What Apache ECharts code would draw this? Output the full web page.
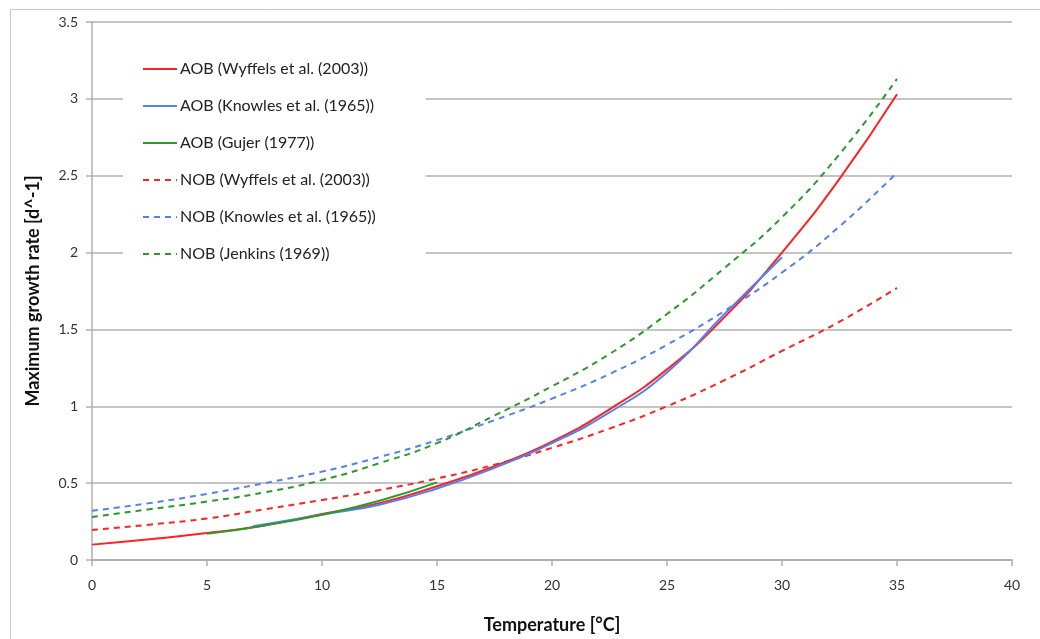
<!DOCTYPE html>
<html>
<head>
<meta charset="utf-8">
<script src="https://cdn.jsdelivr.net/npm/echarts@6/dist/echarts.min.js"></script>
<style>
html,body{margin:0;padding:0;background:#fff;}
#chart{width:1040px;height:639px;}
</style>
</head>
<body>
<div id="chart"></div>
<script>
// Temperatures (°C) for each series
const tempFull = [0, 2.5, 5, 7.5, 10, 12.5, 15, 17.5, 20, 22.5, 25, 27.5, 30, 32.5, 35];
const tempKnowlesAOB = [7, 10, 12.5, 15, 17.5, 20, 22.5, 25, 27.5, 30];
const tempGujer = [5, 7.5, 10, 12.5, 15];

// Maximum growth rates [d^-1]
const aobWyffels = [0.10, 0.135, 0.175, 0.225, 0.30, 0.37, 0.48, 0.61, 0.77, 0.98, 1.24, 1.58, 2.00, 2.48, 3.03];
const aobKnowles = [0.22, 0.295, 0.36, 0.465, 0.60, 0.76, 0.96, 1.22, 1.60, 1.97];
const aobGujer = [0.17, 0.225, 0.295, 0.385, 0.505];
const nobWyffels = [0.195, 0.23, 0.27, 0.33, 0.39, 0.455, 0.53, 0.62, 0.73, 0.855, 1.0, 1.17, 1.36, 1.55, 1.77];
const nobKnowles = [0.32, 0.37, 0.43, 0.50, 0.575, 0.67, 0.78, 0.91, 1.05, 1.21, 1.40, 1.62, 1.87, 2.17, 2.52];
const nobJenkins = [0.28, 0.33, 0.38, 0.44, 0.52, 0.63, 0.76, 0.94, 1.13, 1.34, 1.60, 1.90, 2.23, 2.64, 3.13];

const names = [
  'AOB (Wyffels et al. (2003))',
  'AOB (Knowles et al. (1965))',
  'AOB (Gujer (1977))',
  'NOB (Wyffels et al. (2003))',
  'NOB (Knowles et al. (1965))',
  'NOB (Jenkins (1969))'
];

const RED = '#ff2222', BLUE = '#5282f2', GREEN = '#2a9a2a';

function pairs(xs, ys){ return xs.map((x,i)=>[x, ys[i]]); }

function mk(name, xs, ys, color, dashed){
  return {
    name: name, type: 'line', smooth: true, symbol: 'none',
    data: pairs(xs, ys),
    lineStyle: {color: color, width: 2, type: dashed ? [6,5] : 'solid'},
    itemStyle: {color: color},
    z: dashed ? 2 : 3
  };
}

const chart = echarts.init(document.getElementById('chart'), null, {renderer:'canvas'});
const FONT = 'Lato, "Liberation Sans", sans-serif';

chart.setOption({
  animation: false,
  backgroundColor: '#fff',
  textStyle: {fontFamily: FONT},
  graphic: [{
    type: 'rect', left: 8, top: 7, shape: {width: 1100, height: 700},
    style: {fill: 'none', stroke: '#c8c8c8', lineWidth: 1}, silent: true
  }],
  grid: {left: 92, right: 28, top: 22, bottom: 79, outerBoundsMode: 'none', containLabel: false},
  legend: {
    orient: 'vertical', left: 123, top: 53,
    backgroundColor: '#fff',
    padding: [8, 50, 8, 19],
    itemWidth: 34, itemHeight: 14, itemGap: 21,
    itemStyle: {opacity: 0},
    textStyle: {fontFamily: FONT, fontSize: 16, color: '#222', padding: [0,0,0,-2]},
    data: names,
    z: 10
  },
  xAxis: {
    type: 'value', min: 0, max: 40, interval: 5,
    name: 'Temperature [°C]', nameLocation: 'middle', nameGap: 56,
    nameTextStyle: {fontFamily: FONT, fontSize: 18, fontWeight: 'bold', color: '#111'},
    axisLine: {show: true, lineStyle: {color: '#b0b0b0', width: 2}},
    axisTick: {show: true, inside: false, length: 6, lineStyle: {color: '#b0b0b0', width: 1.5}},
    axisLabel: {fontFamily: FONT, fontSize: 14, color: '#333', margin: 18},
    splitLine: {show: false}
  },
  yAxis: {
    type: 'value', min: 0, max: 3.5, interval: 0.5,
    name: 'Maximum growth rate [d^-1]', nameLocation: 'middle', nameGap: 50, nameRotate: 90,
    nameTextStyle: {fontFamily: FONT, fontSize: 18, fontWeight: 'bold', color: '#111'},
    axisLine: {show: true, lineStyle: {color: '#b0b0b0', width: 1.5}},
    axisTick: {show: true, inside: false, length: 6, lineStyle: {color: '#b0b0b0', width: 1.5}},
    axisLabel: {fontFamily: FONT, fontSize: 14, color: '#333', margin: 14},
    splitLine: {show: true, lineStyle: {color: '#c4c4c4', width: 2}}
  },
  series: [
    mk(names[0], tempFull, aobWyffels, RED, false),
    mk(names[1], tempKnowlesAOB, aobKnowles, BLUE, false),
    mk(names[2], tempGujer, aobGujer, GREEN, false),
    mk(names[3], tempFull, nobWyffels, RED, true),
    mk(names[4], tempFull, nobKnowles, BLUE, true),
    mk(names[5], tempFull, nobJenkins, GREEN, true)
  ]
});
</script>
</body>
</html>
